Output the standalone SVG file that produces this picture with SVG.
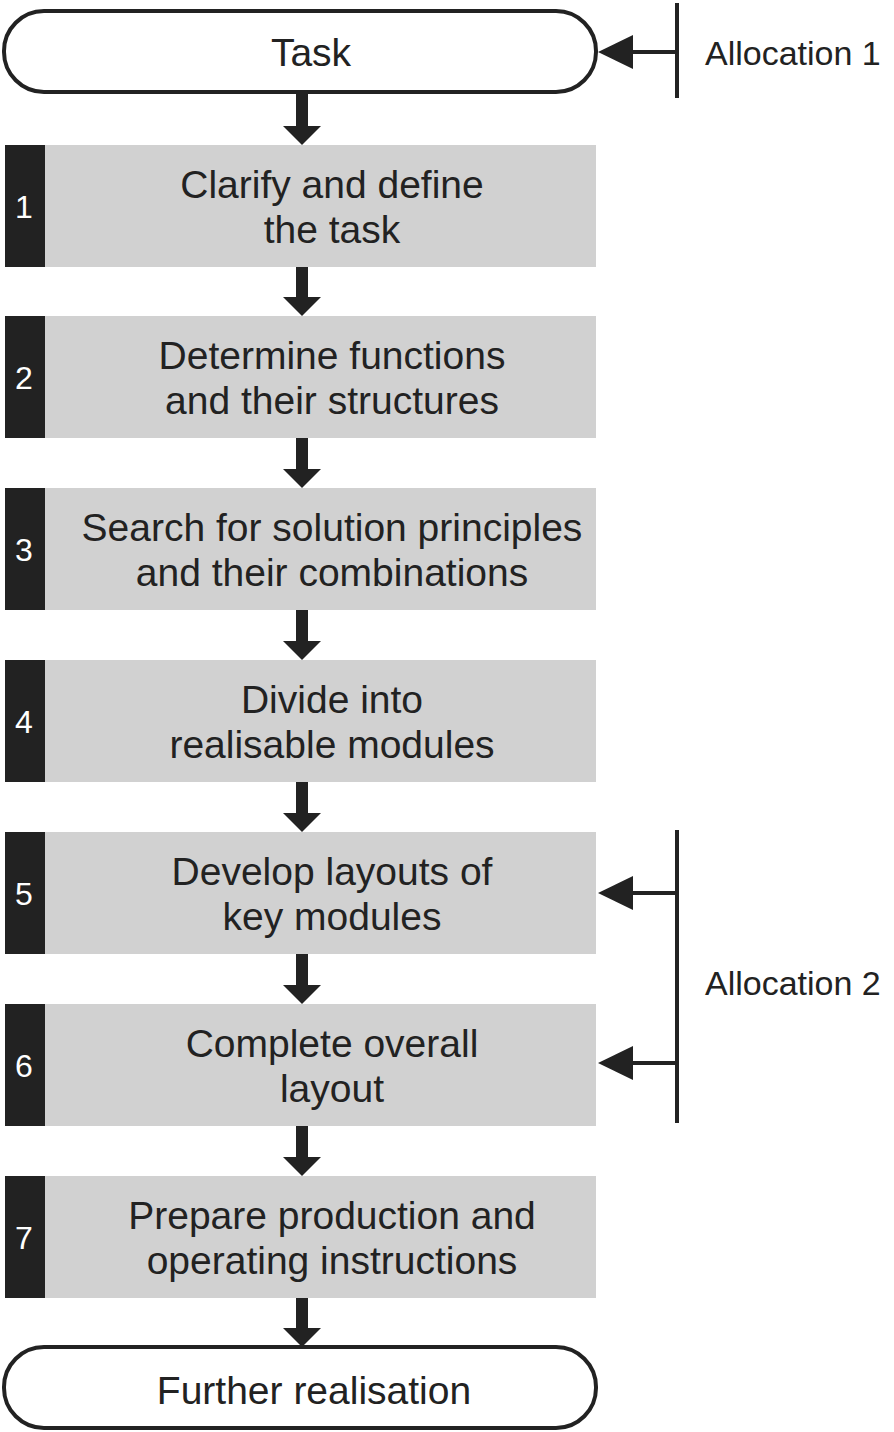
<svg xmlns="http://www.w3.org/2000/svg" width="894" height="1432" viewBox="0 0 894 1432">
<style>
.term{fill:#fff;stroke:#222;stroke-width:4}
.box{fill:#d1d1d1}
.tab{fill:#222}
.t{font-family:"Liberation Sans",Arial,sans-serif;font-size:39px;fill:#222;text-anchor:middle}
.n{font-family:"Liberation Sans",Arial,sans-serif;font-size:32px;fill:#fff;text-anchor:middle}
.al{font-family:"Liberation Sans",Arial,sans-serif;font-size:34px;fill:#222}
.ln{stroke:#222;stroke-width:4;fill:none}
.shaft{stroke:#222;stroke-width:12;fill:none}
.head{fill:#222}
</style>
<g id="task"><rect class="term" x="4" y="11" width="592" height="81" rx="40" ry="40"/><text class="t" x="311" y="66">Task</text></g>
<g id="step1"><rect class="box" x="5" y="145" width="591" height="122"/><rect class="tab" x="5" y="145" width="40" height="122"/><text class="n" x="24" y="218">1</text><text class="t" x="332" y="198">Clarify and define</text><text class="t" x="332" y="243">the task</text></g>
<g id="step2"><rect class="box" x="5" y="316" width="591" height="122"/><rect class="tab" x="5" y="316" width="40" height="122"/><text class="n" x="24" y="389">2</text><text class="t" x="332" y="369">Determine functions</text><text class="t" x="332" y="414">and their structures</text></g>
<g id="step3"><rect class="box" x="5" y="488" width="591" height="122"/><rect class="tab" x="5" y="488" width="40" height="122"/><text class="n" x="24" y="561">3</text><text class="t" x="332" y="541">Search for solution principles</text><text class="t" x="332" y="586">and their combinations</text></g>
<g id="step4"><rect class="box" x="5" y="660" width="591" height="122"/><rect class="tab" x="5" y="660" width="40" height="122"/><text class="n" x="24" y="733">4</text><text class="t" x="332" y="713">Divide into</text><text class="t" x="332" y="758">realisable modules</text></g>
<g id="step5"><rect class="box" x="5" y="832" width="591" height="122"/><rect class="tab" x="5" y="832" width="40" height="122"/><text class="n" x="24" y="905">5</text><text class="t" x="332" y="885">Develop layouts of</text><text class="t" x="332" y="930">key modules</text></g>
<g id="step6"><rect class="box" x="5" y="1004" width="591" height="122"/><rect class="tab" x="5" y="1004" width="40" height="122"/><text class="n" x="24" y="1077">6</text><text class="t" x="332" y="1057">Complete overall</text><text class="t" x="332" y="1102">layout</text></g>
<g id="step7"><rect class="box" x="5" y="1176" width="591" height="122"/><rect class="tab" x="5" y="1176" width="40" height="122"/><text class="n" x="24" y="1249">7</text><text class="t" x="332" y="1229">Prepare production and</text><text class="t" x="332" y="1274">operating instructions</text></g>
<g id="further"><rect class="term" x="4" y="1347" width="592" height="81" rx="40" ry="40"/><text class="t" x="314" y="1404">Further realisation</text></g>
<g id="alloc1"><text class="al" x="705" y="65">Allocation 1</text></g>
<g id="alloc2"><text class="al" x="705" y="995">Allocation  2</text></g>
<g id="connectors">
<line class="shaft" x1="302" y1="92" x2="302" y2="128"/><polygon class="head" points="283,126 321,126 302,145"/>
<line class="shaft" x1="302" y1="267" x2="302" y2="299"/><polygon class="head" points="283,297 321,297 302,316"/>
<line class="shaft" x1="302" y1="438" x2="302" y2="471"/><polygon class="head" points="283,469 321,469 302,488"/>
<line class="shaft" x1="302" y1="610" x2="302" y2="643"/><polygon class="head" points="283,641 321,641 302,660"/>
<line class="shaft" x1="302" y1="782" x2="302" y2="815"/><polygon class="head" points="283,813 321,813 302,832"/>
<line class="shaft" x1="302" y1="954" x2="302" y2="987"/><polygon class="head" points="283,985 321,985 302,1004"/>
<line class="shaft" x1="302" y1="1126" x2="302" y2="1159"/><polygon class="head" points="283,1157 321,1157 302,1176"/>
<line class="shaft" x1="302" y1="1298" x2="302" y2="1330"/><polygon class="head" points="283,1328 321,1328 302,1347"/>
<line class="ln" x1="677" y1="3" x2="677" y2="98"/><line class="ln" x1="677" y1="52" x2="628" y2="52"/><polygon class="head" points="598,52 633,35 633,69"/>
<line class="ln" x1="677" y1="830" x2="677" y2="1123"/>
<line class="ln" x1="677" y1="893" x2="628" y2="893"/><polygon class="head" points="598,893 633,876 633,910"/>
<line class="ln" x1="677" y1="1063" x2="628" y2="1063"/><polygon class="head" points="598,1063 633,1046 633,1080"/>
</g>
</svg>
